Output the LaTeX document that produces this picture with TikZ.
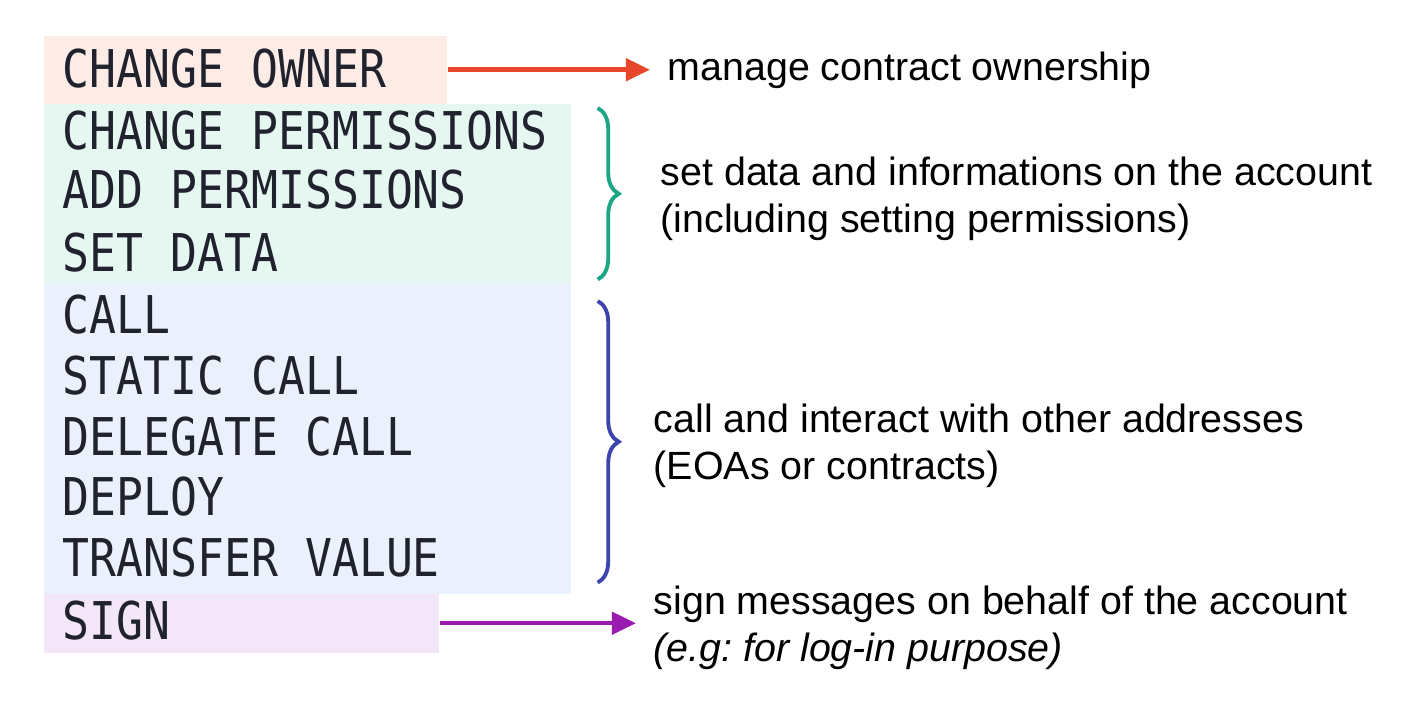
\documentclass[tikz,border=0pt]{standalone}
\usepackage{fontspec}
\usetikzlibrary{arrows.meta,decorations.pathreplacing}
\newfontfamily\codefont[FakeStretch=0.86]{DejaVu Sans Mono}
\newfontfamily\descfont{Liberation Sans}
\definecolor{ownerfill}{HTML}{FDEBE6}
\definecolor{datafill}{HTML}{E6F6F1}
\definecolor{callfill}{HTML}{EAF1FD}
\definecolor{signfill}{HTML}{F3E6F8}
\definecolor{ownerred}{HTML}{E8472B}
\definecolor{datagreen}{HTML}{1BA686}
\definecolor{callblue}{HTML}{3D44AE}
\definecolor{signpurple}{HTML}{9A1BB0}
\definecolor{codeink}{HTML}{20222E}
\frenchspacing

\begin{document}
\begin{tikzpicture}[x=0.01cm, y=-0.01cm]
    \tikzstyle{box}=[rectangle, inner sep=0pt, anchor=north west, draw=none]
    \tikzstyle{op}=[anchor=west, inner sep=0pt, text=codeink, font=\codefont\fontsize{14.8}{16}\selectfont]
    \tikzstyle{desc}=[anchor=west, inner sep=0pt, align=left, font=\descfont\fontsize{11.2}{13.2}\selectfont]
    \tikzstyle{arrow}=[-{Triangle[length=0.24cm,width=0.22cm]}, line width=1.3pt, shorten >=0.17cm]
    \tikzstyle{brace}=[decorate, decoration={brace, amplitude=0.21cm}, line width=1.1pt]

    \useasboundingbox (0,0) rectangle (1414,707);

    % Coloured groups of permissions
    \node[box, fill=ownerfill, minimum width=4.03cm, minimum height=0.68cm] (B-owner) at (43,35) {};
    \node[box, fill=datafill, minimum width=5.27cm, minimum height=1.80cm] (B-data) at (43,103) {};
    \node[box, fill=callfill, minimum width=5.27cm, minimum height=3.10cm] (B-call) at (43,283) {};
    \node[box, fill=signfill, minimum width=3.95cm, minimum height=0.59cm] (B-sign) at (43,593) {};

    % The permission names
    \foreach \y/\txt [count=\i] in {69/CHANGE OWNER, 131/CHANGE PERMISSIONS, 190/ADD PERMISSIONS,
        253/SET DATA, 315/CALL, 376/STATIC CALL, 437/DELEGATE CALL, 497/DEPLOY,
        558/TRANSFER VALUE, 621/SIGN}
        \node[op] (P-\i) at (62,\y) {\txt};

    % What each group allows
    \node[desc] (D-owner) at (667,70) {manage contract ownership};
    \node[desc] (D-data) at (660,199) {set data and informations on the account\\(including setting permissions)};
    \node[desc] (D-call) at (653,446) {call and interact with other addresses\\(EOAs or contracts)};
    \node[desc] (D-sign) at (653,628) {sign messages on behalf of the account\\\textit{(e.g: for log-in purpose)}};

    % Arrows and braces
    \draw[arrow, ownerred] (B-owner.east) -- (B-owner.east -| D-owner.west);
    \draw[arrow, signpurple] (B-sign.east) -- (B-sign.east -| D-sign.west);
    \draw[brace, datagreen] ([xshift=0.26cm, yshift=-0.05cm]B-data.north east) -- ([xshift=0.26cm, yshift=0.05cm]B-data.south east);
    \draw[brace, callblue] ([xshift=0.26cm, yshift=-0.18cm]B-call.north east) -- ([xshift=0.26cm, yshift=0.12cm]B-call.south east);

\end{tikzpicture}
\end{document}
